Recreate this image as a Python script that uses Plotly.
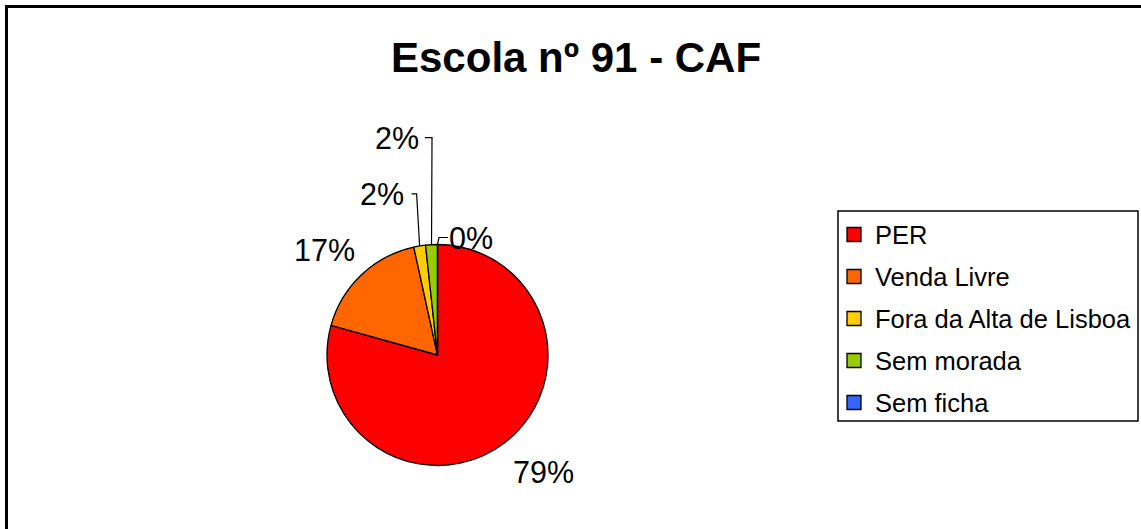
import math
import plotly.graph_objects as go

# Escola nº 91 - CAF: distribution of pupils by housing origin
categories = ["PER", "Venda Livre", "Fora da Alta de Lisboa", "Sem morada", "Sem ficha"]
counts = [46, 10, 1, 1, 0]
colors = ["#FF0000", "#FF6600", "#FFCC00", "#99CC00", "#3366FF"]
title_text = "Escola nº 91 - CAF"

W, H = 1141, 529
FONT = "Arial, Liberation Sans, sans-serif"

# pie geometry in page pixels
cx, cy, r = 437.5, 355.0, 110.5

total = sum(counts)
shares = [c / total for c in counts]
pct_text = [f"{round(100 * s)}%" for s in shares]

fig = go.Figure()
fig.add_trace(go.Pie(
    labels=categories,
    values=counts,
    marker=dict(colors=colors, line=dict(color="black", width=1.3)),
    sort=False,
    direction="clockwise",
    rotation=0,
    textinfo="none",
    hoverinfo="label+percent",
    showlegend=False,
    domain=dict(x=[(cx - r) / W, (cx + r) / W], y=[1 - (cy + r) / H, 1 - (cy - r) / H]),
))

# invisible pixel-space axes used for labels, leaders and the legend
fig.add_trace(go.Scatter(x=[0, W], y=[0, H], mode="markers", marker=dict(opacity=0),
                         hoverinfo="skip", showlegend=False))

shapes = []
annotations = []

# label placement per slice: offset of the label centre from the slice's outer midpoint
label_place = {
    "PER": dict(rad=40, dx=14.5, dy=-3, leader=False),
    "Venda Livre": dict(rad=40, dx=-10, dy=4.5, leader=False),
    "Fora da Alta de Lisboa": dict(rad=0, dx=-38, dy=-52, leader=True, elbow=-3, gap=5),
    "Sem morada": dict(rad=0, dx=-35, dy=-107, leader=True, elbow=0.5, gap=7),
    "Sem ficha": dict(rad=0, dx=33, dy=-7, leader=True, elbow=1.5, gap=-9),
}

cum = 0.0
for cat, share, txt in zip(categories, shares, pct_text):
    mid = (cum + share / 2) * 2 * math.pi
    cum += share
    p = label_place[cat]
    ex = cx + r * math.sin(mid)
    ey = cy - r * math.cos(mid)
    ax = cx + (r + p["rad"]) * math.sin(mid)
    ay = cy - (r + p["rad"]) * math.cos(mid)
    lx, ly = ax + p["dx"], ay + p["dy"]
    annotations.append(dict(x=lx, y=ly, xref="x", yref="y", text=txt, showarrow=False,
                            xanchor="center", yanchor="middle",
                            font=dict(family=FONT, size=30.5, color="black")))
    if p["leader"]:
        bx = ex + p["elbow"]
        hx = bx - p["gap"]
        shapes.append(dict(type="path", xref="x", yref="y",
                           path=f"M {ex},{ey} L {bx},{ly} L {hx},{ly}",
                           line=dict(color="black", width=1.2)))

# title
annotations.append(dict(x=576, y=57, xref="x", yref="y", text=f"<b>{title_text}</b>",
                        showarrow=False, xanchor="center", yanchor="middle",
                        font=dict(family=FONT, size=42, color="black")))

# legend box and entries
lg_x0, lg_y0, lg_x1, lg_y1 = 838, 211, 1138, 421
shapes.append(dict(type="rect", xref="x", yref="y", x0=lg_x0, y0=lg_y0, x1=lg_x1, y1=lg_y1,
                   line=dict(color="black", width=1.5), fillcolor="white", layer="below"))
row0, row_step = 234.5, 42
for i, (cat, col) in enumerate(zip(categories, colors)):
    yc = row0 + i * row_step
    shapes.append(dict(type="rect", xref="x", yref="y", x0=847, x1=861, y0=yc - 7, y1=yc + 7,
                       fillcolor=col, line=dict(color="black", width=1.3)))
    annotations.append(dict(x=873, y=yc, xref="x", yref="y", text=cat, showarrow=False,
                            xanchor="left", yanchor="middle",
                            font=dict(family=FONT, size=25.5, color="black")))

# chart area frame (runs off the right and bottom edges)
shapes.append(dict(type="rect", xref="x", yref="y", x0=6.5, y0=6.5, x1=W + 20, y1=H + 20,
                   line=dict(color="black", width=3), layer="below"))

fig.update_layout(
    width=W, height=H,
    margin=dict(l=0, r=0, t=0, b=0),
    paper_bgcolor="white", plot_bgcolor="rgba(0,0,0,0)",
    xaxis=dict(range=[0, W], visible=False, fixedrange=True, domain=[0, 1]),
    yaxis=dict(range=[H, 0], visible=False, fixedrange=True, domain=[0, 1]),
    shapes=shapes, annotations=annotations,
    showlegend=False,
)

fig.write_html("out.html")
